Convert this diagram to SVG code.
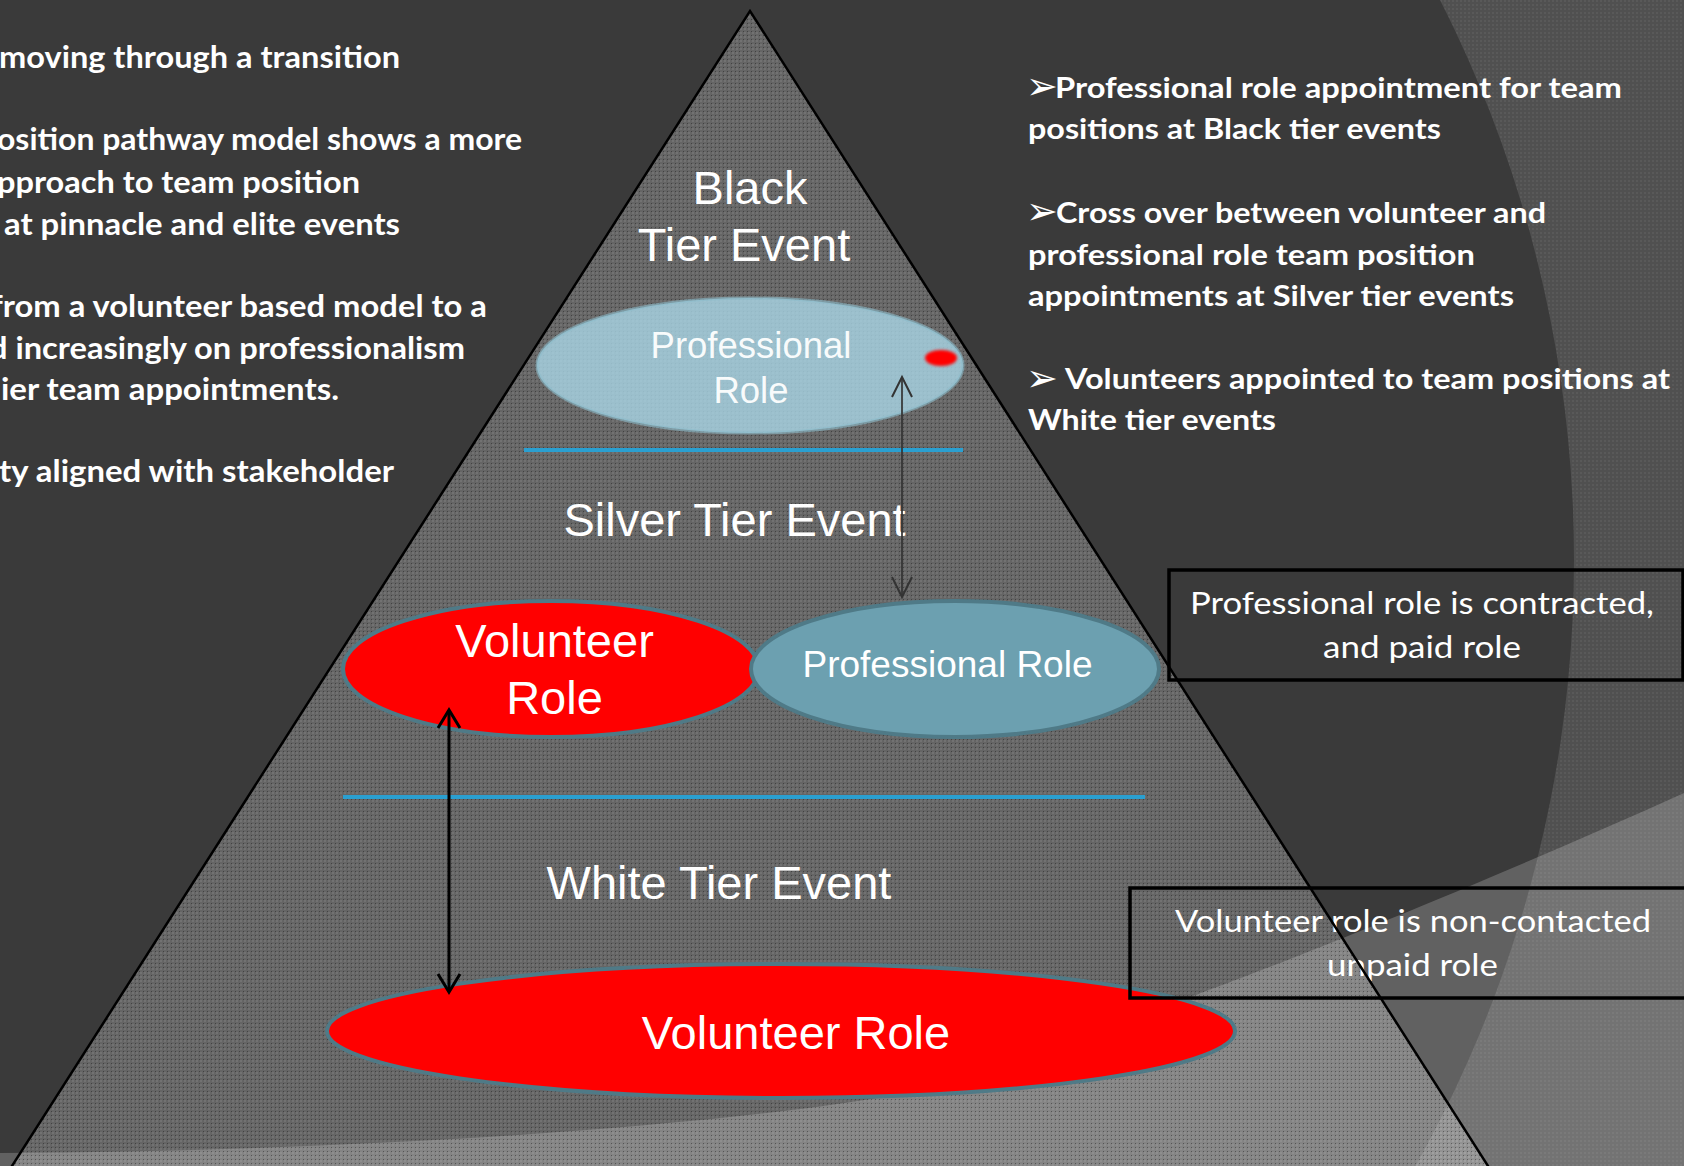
<svg xmlns="http://www.w3.org/2000/svg" width="1684" height="1166" viewBox="0 0 1684 1166">
<defs>
<style>
.bold{font-family:Lato,"Open Sans","Liberation Sans",sans-serif;font-weight:bold;fill:#fff}
.reg{font-family:Lato,"Open Sans","Liberation Sans",sans-serif;fill:#fff}
.arr{font-family:"DejaVu Sans",sans-serif;fill:#fff}
.lbl{font-family:"Liberation Sans",Arial,sans-serif;fill:#fff;text-anchor:middle}
.sep{stroke:#2a9fd0;stroke-width:4}
.roleR{fill:#ff0000;stroke:#4f7a87;stroke-width:4}
.roleB{fill:#6ca0b0;stroke:#4f7a87;stroke-width:4}
.box{fill:none;stroke:#000;stroke-width:3.5}
</style>
<pattern id="tex" width="4" height="4" patternUnits="userSpaceOnUse">
<rect width="4" height="4" fill="#fff" fill-opacity="0.22"/>
<rect width="2" height="2" fill="#fff" fill-opacity="0.08"/>
<rect x="3" y="3" width="1" height="1" fill="#000" fill-opacity="0.35"/>
</pattern>
<pattern id="tex2" width="4" height="4" patternUnits="userSpaceOnUse">
<rect width="4" height="4" fill="#fff" fill-opacity="0.11"/>
<rect width="2" height="2" fill="#fff" fill-opacity="0.05"/>
</pattern>
<filter id="blur" x="-50%" y="-50%" width="200%" height="200%"><feGaussianBlur stdDeviation="1.6"/></filter>
<marker id="ahS" markerUnits="userSpaceOnUse" markerWidth="26" markerHeight="26" refX="21" refY="13" orient="auto-start-reverse" viewBox="0 0 26 26"><path d="M3,2 L21,13 L3,24" fill="none" stroke="#000" stroke-width="3"/></marker>
<marker id="ahD" markerUnits="userSpaceOnUse" markerWidth="26" markerHeight="26" refX="23" refY="13" orient="auto-start-reverse" viewBox="0 0 26 26"><path d="M3,3 L23,13 L3,23" fill="none" stroke="#333" stroke-width="2"/></marker>
</defs>

<!-- background -->
<rect width="1684" height="1166" fill="#3a3a3a"/>
<path d="M0,0 H1684 V1166 H0 Z M-900,560 a1237,1237 0 1,0 2474,0 a1237,1237 0 1,0 -2474,0 Z" fill="url(#tex2)" fill-rule="evenodd"/>
<path d="M0,1153 C300,1151 600,1135 816,1107 S1100,1030 1201,993 S1500,876 1684,793 L1684,1166 L0,1166 Z" fill="#fff" fill-opacity="0.2"/>

<!-- pyramid -->
<g id="pyramid">
<polygon points="750,11 5.6,1176 1494.4,1176" fill="url(#tex)"/>
<line class="sep" x1="524" y1="450" x2="963" y2="450"/>
<line class="sep" x1="343" y1="797" x2="1145" y2="797"/>
</g>

<g id="label-black">
<text class="lbl" x="750" y="204" font-size="47">Black</text>
<text class="lbl" x="744" y="261" font-size="47">Tier Event</text>
</g>
<g id="label-silver"><text class="lbl" x="734.5" y="536" font-size="47">Silver Tier Event</text></g>
<g id="label-white"><text class="lbl" x="719" y="899" font-size="47">White Tier Event</text></g>

<g id="node-top-professional">
<ellipse cx="750" cy="365.5" rx="213" ry="67.5" fill="#a9d6e6" fill-opacity="0.8" stroke="#8cbccc" stroke-opacity="0.6" stroke-width="3"/>
<ellipse cx="941" cy="358" rx="16" ry="8" fill="#ff0000" filter="url(#blur)"/>
<text class="lbl" x="751" y="358" font-size="36.5" fill-opacity="0.95">Professional</text>
<text class="lbl" x="751" y="403" font-size="36.5" fill-opacity="0.95">Role</text>
</g>

<g id="node-mid-volunteer">
<ellipse class="roleR" cx="551" cy="669" rx="208" ry="68"/>
<text class="lbl" x="554.5" y="657" font-size="47">Volunteer</text>
<text class="lbl" x="554.5" y="714" font-size="47">Role</text>
</g>

<g id="node-mid-professional">
<ellipse class="roleB" cx="955" cy="669" rx="204" ry="68"/>
<text class="lbl" x="947.5" y="677" font-size="37">Professional Role</text>
</g>

<g id="node-bottom-volunteer">
<ellipse class="roleR" cx="781" cy="1031" rx="454" ry="67"/>
<text class="lbl" x="796" y="1049" font-size="47">Volunteer Role</text>
</g>

<g id="connectors">
<line x1="902" y1="377" x2="902" y2="597" stroke="#333" stroke-opacity="0.85" stroke-width="2" marker-start="url(#ahD)" marker-end="url(#ahD)"/>
<line x1="449" y1="710" x2="449" y2="992" stroke="#000" stroke-width="3" marker-start="url(#ahS)" marker-end="url(#ahS)"/>
</g>

<g id="left-text">
<text class="bold" x="-1" y="68" font-size="30" textLength="401" lengthAdjust="spacingAndGlyphs">moving through a transition</text>
<text class="bold" x="-3" y="150" font-size="30" textLength="525" lengthAdjust="spacingAndGlyphs">osition pathway model shows a more</text>
<text class="bold" x="-3" y="193" font-size="30" textLength="363" lengthAdjust="spacingAndGlyphs">pproach to team position</text>
<text class="bold" x="4" y="235" font-size="30" textLength="396" lengthAdjust="spacingAndGlyphs">at pinnacle and elite events</text>
<text class="bold" x="-9" y="317" font-size="30" textLength="496" lengthAdjust="spacingAndGlyphs">from a volunteer based model to a</text>
<text class="bold" x="-11" y="359" font-size="30" textLength="476" lengthAdjust="spacingAndGlyphs">d increasingly on professionalism</text>
<text class="bold" x="1" y="400" font-size="30" textLength="338" lengthAdjust="spacingAndGlyphs">ier team appointments.</text>
<text class="bold" x="-1" y="482" font-size="30" textLength="395" lengthAdjust="spacingAndGlyphs">ty aligned with stakeholder</text>
</g>

<g id="right-text">
<text class="arr" x="1026" y="99" font-size="38">➢</text>
<text class="bold" x="1055" y="97.5" font-size="28" textLength="567" lengthAdjust="spacingAndGlyphs">Professional role appointment for team</text>
<text class="bold" x="1028" y="139" font-size="28" textLength="413" lengthAdjust="spacingAndGlyphs">positions at Black tier events</text>
<text class="arr" x="1026" y="224" font-size="38">➢</text>
<text class="bold" x="1056" y="222.5" font-size="28" textLength="490" lengthAdjust="spacingAndGlyphs">Cross over between volunteer and</text>
<text class="bold" x="1028" y="265" font-size="28" textLength="447" lengthAdjust="spacingAndGlyphs">professional role team position</text>
<text class="bold" x="1028" y="306" font-size="28" textLength="486" lengthAdjust="spacingAndGlyphs">appointments at Silver tier events</text>
<text class="arr" x="1026" y="391" font-size="38">➢</text>
<text class="bold" x="1065" y="389" font-size="28" textLength="605" lengthAdjust="spacingAndGlyphs">Volunteers appointed to team positions at</text>
<text class="bold" x="1028" y="430" font-size="28" textLength="248" lengthAdjust="spacingAndGlyphs">White tier events</text>
</g>

<g id="box-professional">
<rect class="box" x="1169" y="570" width="514" height="110"/>
<text class="reg" x="1190" y="614" font-size="31" textLength="464" lengthAdjust="spacingAndGlyphs">Professional role is contracted,</text>
<text class="reg" x="1323" y="658" font-size="31" textLength="198" lengthAdjust="spacingAndGlyphs">and paid role</text>
</g>

<g id="box-volunteer">
<rect class="box" x="1130" y="888" width="570" height="110"/>
<text class="reg" x="1175" y="932" font-size="31" textLength="476" lengthAdjust="spacingAndGlyphs">Volunteer role is non-contacted</text>
<text class="reg" x="1327" y="976" font-size="31" textLength="171" lengthAdjust="spacingAndGlyphs">unpaid role</text>
</g>

<polyline points="5.6,1176 750,11 1494.4,1176" fill="none" stroke="#000" stroke-width="2.5"/>
</svg>
